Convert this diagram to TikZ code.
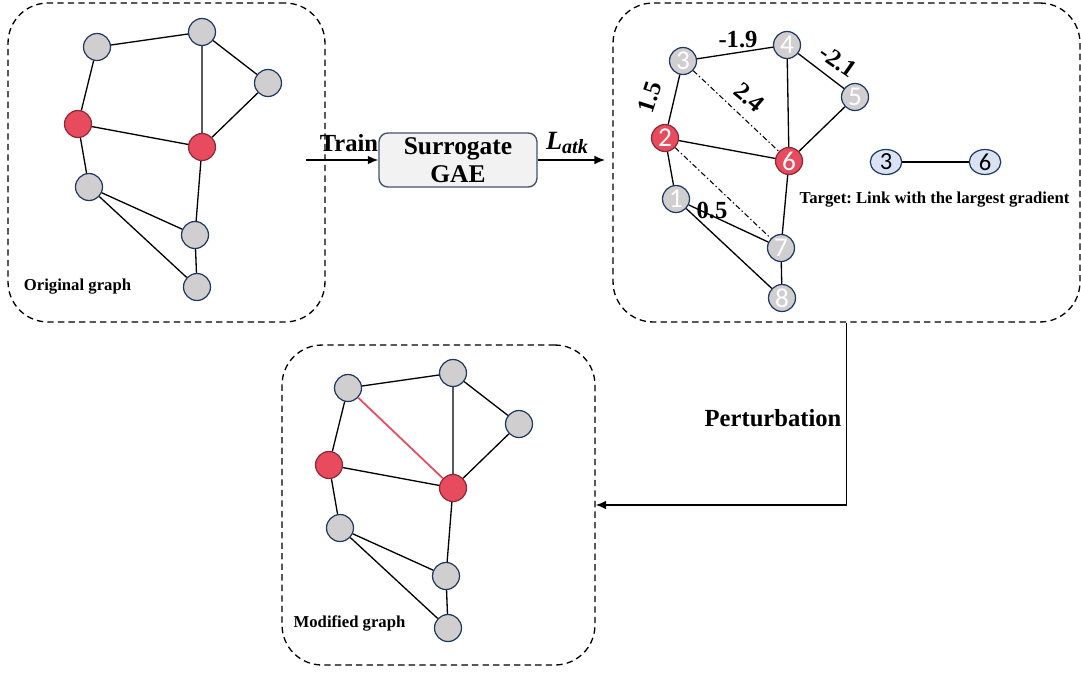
\documentclass[tikz,border=0pt]{standalone}
\usepackage{fontspec}
\setmainfont{Liberation Serif}
\newfontfamily\numfont{Carlito}
\usepackage{xcolor}
\usetikzlibrary{arrows.meta,shapes.geometric}

\definecolor{nodegray}{HTML}{D0CECE}
\definecolor{nodeborder}{HTML}{203864}
\definecolor{nodered}{HTML}{E84B5E}
\definecolor{redborder}{HTML}{8C2A36}
\definecolor{tgtblue}{HTML}{DAE3F3}
\definecolor{boxfill}{HTML}{F2F2F2}
\definecolor{boxborder}{HTML}{44546A}

\tikzset{
  gnode/.style={circle, draw=nodeborder, fill=nodegray, line width=0.7pt,
    minimum size=0.54cm, inner sep=0pt, text=white,
    font=\numfont\fontsize{15.5}{15.5}\selectfont},
  rnode/.style={gnode, draw=redborder, fill=nodered},
  tnode/.style={ellipse, draw=nodeborder, fill=tgtblue, line width=0.7pt,
    minimum width=0.63cm, minimum height=0.5cm, inner sep=0pt,
    font=\numfont\fontsize{14}{14}\selectfont},
  link/.style={line width=0.75pt},
  cand/.style={line width=0.6pt, dash pattern=on 3pt off 1.5pt on 0.8pt off 1.5pt},
  graphbox/.style={draw, dash pattern=on 3.6pt off 2.4pt, line width=0.75pt,
    rounded corners=0.8cm},
  flow/.style={-{Latex[length=6pt,width=5pt]}, line width=0.9pt},
  lbl/.style={font=\frenchspacing\bfseries\fontsize{9.5}{11}\selectfont},
  wlbl/.style={inner sep=1pt, font=\bfseries\fontsize{14}{16}\selectfont},
}

\begin{document}
\begin{tikzpicture}[x=0.02cm, y=-0.02cm]
  \useasboundingbox (0,0) rectangle (1081,673);
  % Dashed frames
  \node[graphbox, minimum width=6.34cm, minimum height=6.38cm] (origbox) at (166.5,162.5) {};
  \node[graphbox, minimum width=9.34cm, minimum height=6.38cm] (tgtbox) at (846.5,162.5) {};
  \node[graphbox, minimum width=6.26cm, minimum height=6.40cm] (modbox) at (438.5,505) {};

  % Original graph
  \node[gnode] (oA) at (97,47) {};
  \node[gnode] (oB) at (202,32) {};
  \node[gnode] (oC) at (268,83) {};
  \node[rnode] (oR) at (78,124) {};
  \node[rnode] (oS) at (202,147) {};
  \node[gnode] (oD) at (89,187) {};
  \node[gnode] (oE) at (195,235) {};
  \node[gnode] (oF) at (197,287) {};
  \draw[link] (oA) -- (oB) (oA) -- (oR) (oB) -- (oS) (oB) -- (oC) (oC) -- (oS)
    (oR) -- (oS) (oR) -- (oD) (oS) -- (oE) (oD) -- (oE) (oD) -- (oF) (oE) -- (oF);
  \node[lbl] (origlbl) at (77.5,287) {Original graph};

  % Surrogate model
  \node[draw=boxborder, fill=boxfill, rounded corners=5pt, line width=0.8pt,
    minimum width=3.16cm, minimum height=1.08cm, align=center, wlbl,
    font=\bfseries\fontsize{14.5}{16}\selectfont] (gae) at (458,160) {Surrogate\\GAE};
  \coordinate (trainin) at (306,160);
  \coordinate (latkout) at (605,160);
  \draw[flow] (trainin) -- (gae.west);
  \draw[flow] (gae.east) -- (latkout);
  \node[wlbl] (trainlbl) at (349,143) {Train};
  \node[font=\bfseries\itshape\fontsize{15}{15}\selectfont] (latk) at (567,143)
    {L\raisebox{-0.4ex}{\fontsize{11.5}{11.5}\selectfont atk}};

  % Gradient graph
  \node[gnode] (v3) at (683,61) {3};
  \node[gnode] (v4) at (787,45) {4};
  \node[gnode] (v5) at (855,97) {5};
  \node[rnode] (v2) at (665,138) {2};
  \node[rnode] (v6) at (789,161) {6};
  \node[gnode] (v1) at (676,199) {1};
  \node[gnode] (v7) at (781,248) {7};
  \node[gnode] (v8) at (782,298) {8};
  \draw[link] (v3) -- (v4) (v4) -- (v5) (v4) -- (v6) (v5) -- (v6) (v3) -- (v2)
    (v2) -- (v6) (v2) -- (v1) (v1) -- (v7) (v1) -- (v8) (v6) -- (v7) (v7) -- (v8);
  \draw[cand] (v3) -- (v6) (v2) -- (v7);
  % Gradient values
  \node[wlbl] (w34) at (738,40) {-1.9};
  \node[wlbl, rotate=-35] (w45) at (838,61) {-2.1};
  \node[wlbl, rotate=-40] (w36) at (749,97) {2.4};
  \node[wlbl, rotate=72] (w23) at (650,97) {1.5};
  \node[wlbl] (w27) at (712,210) {0.5};

  % Target link
  \node[tnode] (t3) at (886,162) {3};
  \node[tnode] (t6) at (985,162) {6};
  \draw[link] (t3) -- (t6);
  \node[lbl] (tgtlbl) at (934.5,200) {Target: Link with the largest gradient};

  % Modified graph
  \begin{scope}[shift={(251,341)}]
    \node[gnode] (mA) at (97,47) {};
    \node[gnode] (mB) at (202,32) {};
    \node[gnode] (mC) at (268,83) {};
    \node[rnode] (mR) at (78,124) {};
    \node[rnode] (mS) at (202,147) {};
    \node[gnode] (mD) at (89,187) {};
    \node[gnode] (mE) at (195,235) {};
    \node[gnode] (mF) at (197,287) {};
  \end{scope}
  \draw[link] (mA) -- (mB) (mA) -- (mR) (mB) -- (mS) (mB) -- (mC) (mC) -- (mS)
    (mR) -- (mS) (mR) -- (mD) (mS) -- (mE) (mD) -- (mE) (mD) -- (mF) (mE) -- (mF);
  \draw[link, draw=nodered, line width=1pt] (mA) -- (mS);
  \node[lbl] (modlbl) at (349.5,623) {Modified graph};

  % Perturbation step
  \draw[flow] (tgtbox.south) |- (modbox.east);
  \node[wlbl] (pertlbl) at (773,418) {Perturbation};
\end{tikzpicture}
\end{document}
